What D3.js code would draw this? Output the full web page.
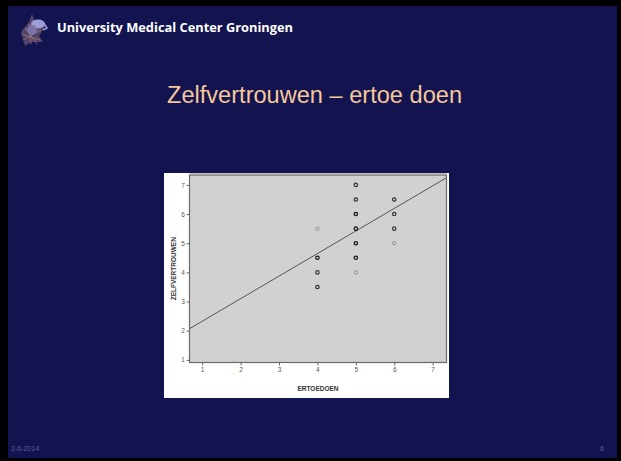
<!DOCTYPE html>
<html><head><meta charset="utf-8">
<script src="https://cdn.jsdelivr.net/npm/d3@7"></script>
<style>body{margin:0;background:#000;}svg{display:block;}</style>
</head><body>
<svg id="c" width="621" height="461"></svg>
<script>
const ertoedoen = [4,4,4,4,5,5,5,5,5,5,5,6,6,6,6];
const zelfvertrouwen = [5.5,4.5,4,3.5,7,6.5,6,5.5,5,4.5,4,6.5,6,5.5,5];
const overlap = [1,3,2,2,2,2,3,3,3,3,1,2,2,2,1];
const xTicks = [1,2,3,4,5,6,7];
const yTicks = [1,2,3,4,5,6,7];
const fitIntercept = 1.55, fitSlope = 0.774;

const svg = d3.select("#c");
svg.append("rect").attr("x",0).attr("y",0).attr("width",621).attr("height",461).attr("fill","#000");
svg.append("rect").attr("x",8).attr("y",6).attr("width",609).attr("height",452).attr("fill","#131350");

// logo (simple frog-like glyph)
const logo = svg.append("g").attr("transform","translate(19,12)");
logo.append("path").attr("d","M2,20 L10,10 L13,2 L16,10 L26,14 L20,24 L24,30 L12,30 L6,34 Z").attr("fill","#5a4a6a").attr("opacity",0.9);
logo.append("path").attr("d","M3,22 L21,28 M6,16 L18,32 M10,12 L12,32 M4,28 L22,18").attr("stroke","#9a7a78").attr("stroke-width",0.8);
logo.append("ellipse").attr("cx",19).attr("cy",12).attr("rx",7).attr("ry",4.5).attr("fill","#9c9cd6");
logo.append("ellipse").attr("cx",13).attr("cy",18).attr("rx",5).attr("ry",5).attr("fill","#7c74a8");
logo.append("path").attr("d","M24,10 L28,16 L24,18").attr("stroke","#9c9cd6").attr("stroke-width",1.5).attr("fill","none");

svg.append("text").attr("x",57).attr("y",32).attr("fill","#fff")
  .attr("font-family","'Open Sans', Lato, sans-serif").attr("font-weight","bold").attr("font-size",13)
  .attr("textLength",236).attr("lengthAdjust","spacingAndGlyphs")
  .text("University Medical Center Groningen");

svg.append("text").attr("x",167).attr("y",103).attr("fill","#f5c89a")
  .attr("font-family","'Liberation Sans', Arial, sans-serif").attr("font-size",23)
  .attr("textLength",295).attr("lengthAdjust","spacingAndGlyphs")
  .text("Zelfvertrouwen \u2013 ertoe doen");

svg.append("text").attr("x",11).attr("y",451).attr("fill","#5e5e96")
  .attr("font-family","'Liberation Sans', Arial, sans-serif").attr("font-size",7).text("2-6-2014");
svg.append("text").attr("x",604).attr("y",451).attr("fill","#5e5e96").attr("text-anchor","end")
  .attr("font-family","'Liberation Sans', Arial, sans-serif").attr("font-size",7).text("6");

// chart panel
svg.append("rect").attr("x",164).attr("y",173).attr("width",285).attr("height",225).attr("fill","#fff");
const L=189.5, R=446.5, T=175, B=362.5;
const x = d3.scaleLinear().domain([0.67,7.36]).range([L,R]);
const y = d3.scaleLinear().domain([0.91,7.34]).range([B,T]);
svg.append("rect").attr("x",L).attr("y",T).attr("width",R-L).attr("height",B-T).attr("fill","#d1d1d1");

const clip = svg.append("clipPath").attr("id","pc");
clip.append("rect").attr("x",L).attr("y",T).attr("width",R-L).attr("height",B-T);

const lineG = svg.append("g").attr("clip-path","url(#pc)");
const x0 = x.domain()[0], x1 = x.domain()[1];
lineG.append("line").attr("x1",x(x0)).attr("y1",y(fitIntercept+fitSlope*x0))
  .attr("x2",x(x1)).attr("y2",y(fitIntercept+fitSlope*x1))
  .attr("stroke","#555").attr("stroke-width",1);

const pts = ertoedoen.map((v,i)=>({x:v,y:zelfvertrouwen[i],n:overlap[i]}));
svg.append("g").selectAll("circle").data(pts).join("circle")
  .attr("cx",d=>x(d.x)).attr("cy",d=>y(d.y)).attr("r",1.7)
  .attr("fill","none")
  .attr("stroke",d=>d.n===1?"#8a8a8a":(d.n===2?"#333":"#111"))
  .attr("stroke-width",d=>d.n===1?0.9:1.2);

// frame
svg.append("rect").attr("x",L).attr("y",T).attr("width",R-L).attr("height",B-T)
  .attr("fill","none").attr("stroke","#6a6a6a").attr("stroke-width",1.2);
svg.append("line").attr("x1",L).attr("x2",R).attr("y1",T-1.5).attr("y2",T-1.5).attr("stroke","#aaa").attr("stroke-width",0.8);

const xAxis = d3.axisBottom(x).tickValues(xTicks).tickSize(3).tickSizeOuter(0).tickFormat(d3.format("d"));
const gx = svg.append("g").attr("transform",`translate(0,${B})`).call(xAxis);
gx.select(".domain").remove();
gx.selectAll("line").attr("stroke","#666");
gx.selectAll("text").attr("fill","#555").attr("font-size",6.5).attr("font-family","'Liberation Sans', Arial, sans-serif").attr("dy","0.6em");

const yAxis = d3.axisLeft(y).tickValues(yTicks).tickSize(3).tickSizeOuter(0).tickFormat(d3.format("d"));
const gy = svg.append("g").attr("transform",`translate(${L},0)`).call(yAxis);
gy.select(".domain").remove();
gy.selectAll("line").attr("stroke","#666");
gy.selectAll("text").attr("fill","#555").attr("font-size",6.5).attr("font-family","'Liberation Sans', Arial, sans-serif").attr("dx","0.2em");

svg.append("text").attr("x",(L+R)/2).attr("y",391).attr("text-anchor","middle").attr("fill","#333")
  .attr("font-family","'Liberation Sans', Arial, sans-serif").attr("font-weight","bold").attr("font-size",6.5)
  .text("ERTOEDOEN");
svg.append("text").attr("transform",`translate(176,${(T+B)/2}) rotate(-90)`).attr("text-anchor","middle").attr("fill","#333")
  .attr("font-family","'Liberation Sans', Arial, sans-serif").attr("font-weight","bold").attr("font-size",6.5)
  .text("ZELFVERTROUWEN");
</script>
</body></html>
